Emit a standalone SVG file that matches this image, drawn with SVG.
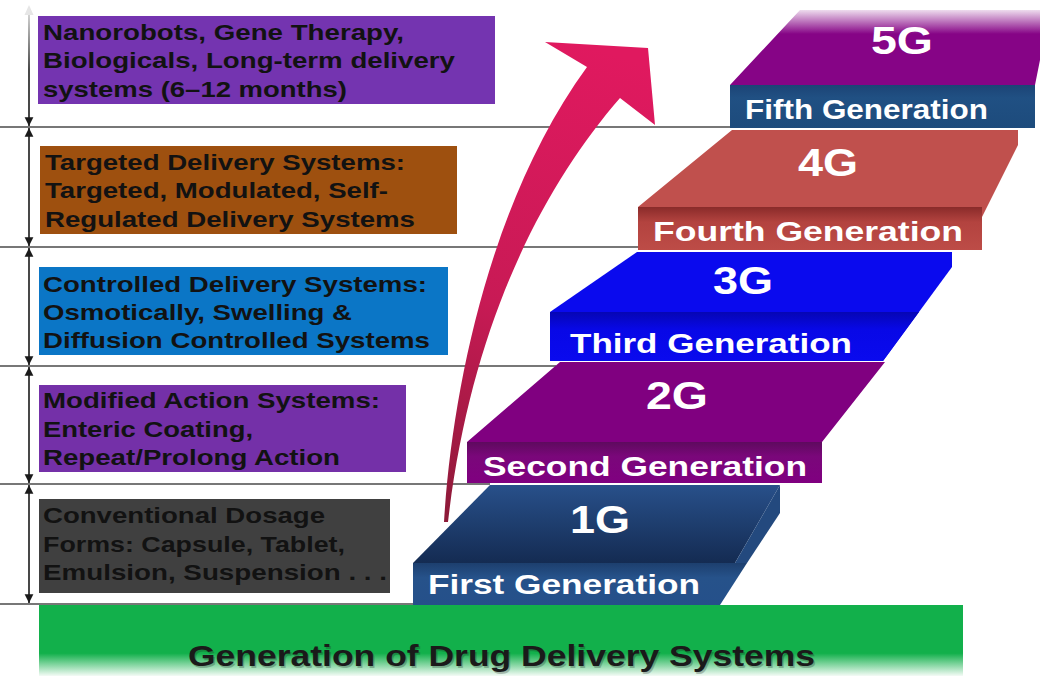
<svg xmlns="http://www.w3.org/2000/svg" width="1040" height="676" viewBox="0 0 1040 676">
  <defs>
    <style>
      .rule { stroke: #4a4a4a; stroke-width: 1.6; fill: none; }
      .dim { stroke: #1a1a1a; stroke-width: 1.6; fill: none; }
      .boxtext { font-family: "Liberation Sans", Arial, sans-serif; font-weight: bold; font-size: 22px; fill: #121212; }
      .gen { font-family: "Liberation Sans", Arial, sans-serif; font-weight: bold; font-size: 38px; fill: #ffffff; text-anchor: middle; }
      .genname { font-family: "Liberation Sans", Arial, sans-serif; font-weight: bold; font-size: 27px; fill: #ffffff; }
      .title { font-family: "Liberation Sans", Arial, sans-serif; font-weight: bold; font-size: 30px; fill: #1a1a1a; }
    </style>
    <marker id="tip" viewBox="0 0 10 10" refX="10" refY="5" markerWidth="5.5" markerHeight="6" markerUnits="strokeWidth" orient="auto-start-reverse">
      <path d="M0,0 L10,5 L0,10 Z" fill="#1a1a1a"/>
    </marker>
    <linearGradient id="topFade" gradientUnits="userSpaceOnUse" x1="0" y1="4" x2="0" y2="70">
      <stop offset="0" stop-color="#e6e6e6"/>
      <stop offset="1" stop-color="#1a1a1a"/>
    </linearGradient>
    <linearGradient id="arrowFill" gradientUnits="userSpaceOnUse" x1="600" y1="50" x2="445" y2="520">
      <stop offset="0" stop-color="#e0195f"/>
      <stop offset="0.55" stop-color="#c81a55"/>
      <stop offset="1" stop-color="#8c1a38"/>
    </linearGradient>
    <linearGradient id="greenFade" x1="0" y1="0" x2="0" y2="1">
      <stop offset="0" stop-color="#12b04b"/>
      <stop offset="0.68" stop-color="#12b04b"/>
      <stop offset="1" stop-color="#f4fbf6"/>
    </linearGradient>
    <linearGradient id="g5top" gradientUnits="userSpaceOnUse" x1="0" y1="6" x2="0" y2="34">
      <stop offset="0" stop-color="#ffffff"/>
      <stop offset="1" stop-color="#860486"/>
    </linearGradient>
    <linearGradient id="g5front" x1="0" y1="0" x2="0" y2="1">
      <stop offset="0" stop-color="#1c4476"/>
      <stop offset="0.3" stop-color="#205083"/>
      <stop offset="1" stop-color="#1d4b7c"/>
    </linearGradient>
    <linearGradient id="g4front" x1="0" y1="0" x2="0" y2="1">
      <stop offset="0" stop-color="#8a2b2a"/>
      <stop offset="0.35" stop-color="#b3433f"/>
      <stop offset="1" stop-color="#bd4c47"/>
    </linearGradient>
    <linearGradient id="g3front" x1="0" y1="0" x2="0" y2="1">
      <stop offset="0" stop-color="#0606b4"/>
      <stop offset="0.35" stop-color="#0808e6"/>
      <stop offset="1" stop-color="#0a0aee"/>
    </linearGradient>
    <linearGradient id="g2front" x1="0" y1="0" x2="0" y2="1">
      <stop offset="0" stop-color="#5e0a5e"/>
      <stop offset="0.35" stop-color="#7a077a"/>
      <stop offset="1" stop-color="#800080"/>
    </linearGradient>
    <linearGradient id="g1top" gradientUnits="userSpaceOnUse" x1="0" y1="485" x2="0" y2="563">
      <stop offset="0" stop-color="#28508a"/>
      <stop offset="1" stop-color="#142b52"/>
    </linearGradient>
    <linearGradient id="g1front" x1="0" y1="0" x2="0" y2="1">
      <stop offset="0" stop-color="#1d3f6e"/>
      <stop offset="0.35" stop-color="#26528a"/>
      <stop offset="1" stop-color="#25508a"/>
    </linearGradient>
  </defs>

  <rect width="1040" height="676" fill="#ffffff"/>

  <!-- band separators -->
  <g id="rules">
    <line class="rule" x1="0" y1="127" x2="732" y2="127"/>
    <line class="rule" x1="0" y1="247" x2="640" y2="247"/>
    <line class="rule" x1="0" y1="366" x2="556" y2="366"/>
    <line class="rule" x1="0" y1="484" x2="490" y2="484"/>
    <line class="rule" x1="0" y1="604" x2="420" y2="604"/>
  </g>

  <!-- description boxes -->
  <g id="box-fifth">
    <rect x="38" y="16" width="457" height="88" fill="#7434b0"/>
    <text class="boxtext" x="43" y="40" textLength="361" lengthAdjust="spacingAndGlyphs">Nanorobots, Gene Therapy,</text>
    <text class="boxtext" x="43" y="68" textLength="412" lengthAdjust="spacingAndGlyphs">Biologicals, Long-term delivery</text>
    <text class="boxtext" x="43" y="97" textLength="304" lengthAdjust="spacingAndGlyphs">systems (6–12 months)</text>
  </g>
  <g id="box-fourth">
    <rect x="40" y="146" width="417" height="88" fill="#9e500f"/>
    <text class="boxtext" x="45" y="170" textLength="360" lengthAdjust="spacingAndGlyphs">Targeted Delivery Systems:</text>
    <text class="boxtext" x="45" y="198" textLength="343" lengthAdjust="spacingAndGlyphs">Targeted, Modulated, Self-</text>
    <text class="boxtext" x="45" y="227" textLength="370" lengthAdjust="spacingAndGlyphs">Regulated Delivery Systems</text>
  </g>
  <g id="box-third">
    <rect x="39" y="267" width="409" height="88" fill="#0b76c6"/>
    <text class="boxtext" x="43" y="292" textLength="384" lengthAdjust="spacingAndGlyphs">Controlled Delivery Systems:</text>
    <text class="boxtext" x="43" y="320" textLength="309" lengthAdjust="spacingAndGlyphs">Osmotically, Swelling &amp;</text>
    <text class="boxtext" x="43" y="348" textLength="387" lengthAdjust="spacingAndGlyphs">Diffusion Controlled Systems</text>
  </g>
  <g id="box-second">
    <rect x="39" y="385" width="367" height="87" fill="#7430a8"/>
    <text class="boxtext" x="43" y="408" textLength="337" lengthAdjust="spacingAndGlyphs">Modified Action Systems:</text>
    <text class="boxtext" x="43" y="437" textLength="210" lengthAdjust="spacingAndGlyphs">Enteric Coating,</text>
    <text class="boxtext" x="43" y="465" textLength="297" lengthAdjust="spacingAndGlyphs">Repeat/Prolong Action</text>
  </g>
  <g id="box-first">
    <rect x="39" y="499" width="351" height="94" fill="#404040"/>
    <text class="boxtext" x="43" y="523" textLength="282" lengthAdjust="spacingAndGlyphs">Conventional Dosage</text>
    <text class="boxtext" x="43" y="552" textLength="302" lengthAdjust="spacingAndGlyphs">Forms: Capsule, Tablet,</text>
    <text class="boxtext" x="43" y="580" textLength="344" lengthAdjust="spacingAndGlyphs">Emulsion, Suspension . . .</text>
  </g>

  <!-- base banner -->
  <g id="base">
    <rect x="39" y="605" width="924" height="71" fill="url(#greenFade)"/>
    <text class="title" x="188" y="666" textLength="627" lengthAdjust="spacingAndGlyphs" fill="#000" opacity="0.25" transform="translate(1.5,1.5)">Generation of Drug Delivery Systems</text>
    <text class="title" x="188" y="666" textLength="627" lengthAdjust="spacingAndGlyphs">Generation of Drug Delivery Systems</text>
  </g>

  <!-- generation steps -->
  <g id="step-5g">
    <path d="M730,85 L800,10 L1040,10 L1040,60 L1035,85 L1035,128 L730,128 Z" fill="url(#g5top)"/>
    <rect x="730" y="85" width="305" height="43" fill="url(#g5front)"/>
    <text class="gen" x="902" y="54" textLength="62" lengthAdjust="spacingAndGlyphs">5G</text>
    <text class="genname" x="745" y="119" textLength="243" lengthAdjust="spacingAndGlyphs">Fifth Generation</text>
  </g>
  <g id="step-4g">
    <path d="M638,207 L732,130 L1018,130 L1018,145 L982,217 L982,250 L638,250 Z" fill="#c0504d"/>
    <rect x="638" y="207" width="344" height="43" fill="url(#g4front)"/>
    <text class="gen" x="828" y="176" textLength="60" lengthAdjust="spacingAndGlyphs">4G</text>
    <text class="genname" x="653" y="241" textLength="310" lengthAdjust="spacingAndGlyphs">Fourth Generation</text>
  </g>
  <g id="step-3g">
    <path d="M550,312 L637,252 L952,252 L952,267 L883,361 L550,361 Z" fill="#0a0aee"/>
    <path d="M550,312 L919,312 L883,361 L550,361 Z" fill="url(#g3front)"/>
    <text class="gen" x="743" y="294" textLength="60" lengthAdjust="spacingAndGlyphs">3G</text>
    <text class="genname" x="570" y="353" textLength="282" lengthAdjust="spacingAndGlyphs">Third Generation</text>
  </g>
  <g id="step-2g">
    <path d="M467,442 L560,362 L885,362 L822,442 L822,483 L467,483 Z" fill="#800080"/>
    <rect x="467" y="442" width="355" height="41" fill="url(#g2front)"/>
    <text class="gen" x="677" y="409" textLength="62" lengthAdjust="spacingAndGlyphs">2G</text>
    <text class="genname" x="483" y="476" textLength="324" lengthAdjust="spacingAndGlyphs">Second Generation</text>
  </g>
  <g id="step-1g">
    <path d="M413,563 L490,485 L780,485 L735,563 Z" fill="url(#g1top)"/>
    <path d="M735,563 L780,485 L780,513 L747,563 Z" fill="#23497e"/>
    <path d="M413,563 L747,563 L720,605 L413,605 Z" fill="url(#g1front)"/>
    <text class="gen" x="600" y="533" textLength="60" lengthAdjust="spacingAndGlyphs">1G</text>
    <text class="genname" x="428" y="594" textLength="272" lengthAdjust="spacingAndGlyphs">First Generation</text>
  </g>

  <!-- connectors: band dimension arrows and the rising progress arrow -->
  <g id="connectors">
    <line x1="29" y1="14" x2="29" y2="126" stroke="url(#topFade)" stroke-width="1.6" marker-end="url(#tip)"/>
    <path d="M24.5,15 L29,5 L33.5,15 Z" fill="#e6e6e6"/>
    <line class="dim" x1="29" y1="128" x2="29" y2="246" marker-start="url(#tip)" marker-end="url(#tip)"/>
    <line class="dim" x1="29" y1="248" x2="29" y2="365" marker-start="url(#tip)" marker-end="url(#tip)"/>
    <line class="dim" x1="29" y1="367" x2="29" y2="483" marker-start="url(#tip)" marker-end="url(#tip)"/>
    <line class="dim" x1="29" y1="485" x2="29" y2="603" marker-start="url(#tip)" marker-end="url(#tip)"/>
    <path d="M444,522 C452,390 490,200 587,67 L545,42 L648,48 L655,125 L620,98 C540,190 470,330 448,522 Z" fill="url(#arrowFill)"/>
  </g>
</svg>
